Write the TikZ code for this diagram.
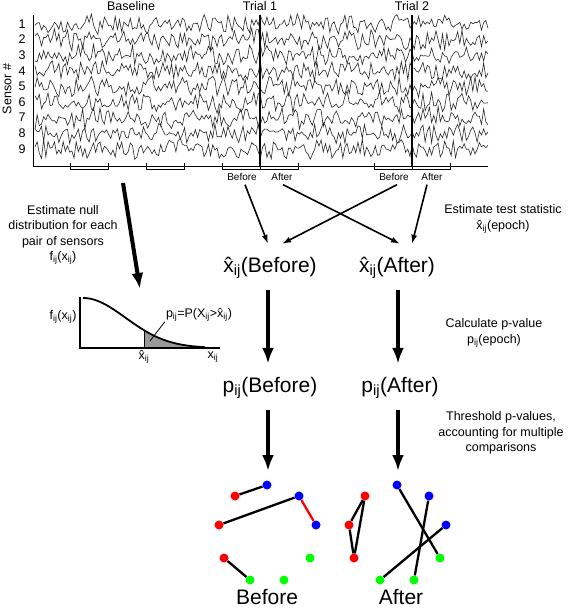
\documentclass[tikz,border=0pt]{standalone}
\usepackage{fontspec}
\setmainfont{Liberation Sans}
\usetikzlibrary{positioning, arrows.meta}

\newcommand{\sij}{\textsubscript{ij}}
\newcommand{\xhat}{\^{x}}

\begin{document}
\begin{tikzpicture}[
    x=1pt, y=-1pt,
    every node/.style={font=\fontsize{12.5}{15.5}\selectfont, align=center, inner sep=0pt},
    trace/.style={draw=black!85, line width=0.6pt},
    bracket/.style={draw, line width=0.6pt},
    smalllabel/.style={font=\fontsize{10}{12}\selectfont, outer ysep=4pt},
    bigbox/.style={font=\fontsize{21}{25}\selectfont, text height=15pt, text depth=5pt, inner ysep=13pt},
    biglabel/.style={font=\fontsize{21}{25}\selectfont},
    thin arrow/.style={-{Latex[length=9pt, width=6pt]}, line width=1.6pt},
    thick arrow/.style={-{Latex[length=16pt, width=12pt]}, line width=4pt},
    sdot/.style={circle, minimum size=9pt, inner sep=0pt},
    link/.style={line width=2.3pt}
]
\useasboundingbox (0,0) rectangle (567,609);
\pgfmathsetseed{11}

% Sensor traces
\node[rotate=90] (sensor_lbl) at (7,89) {Sensor \#};
\foreach \k in {1,...,9} {
    \node (num\k) at (22,{24+15.6*(\k-1)}) {\k};
    \draw[trace] plot[domain=35:488, samples=210] (\x,{24+15.6*(\k-1)+7*rand+5*rand});
}
\draw[line width=0.6pt] (33,15) -- (33,166) -- (488,166);
\draw[line width=2.5pt] (260,15) -- (260,167);
\draw[line width=2.5pt] (412,15) -- (412,167);

% Epoch brackets
\foreach \a/\b in {70/108, 146/184, 222/260, 260/298, 374/412, 412/450}
    \draw[bracket] (\a,163) -- (\a,169) -- (\b,169) -- (\b,163);

% Nodes
\node (baseline) at (131,6) {Baseline};
\node (trial1) at (260,6) {Trial 1};
\node (trial2) at (412,6) {Trial 2};
\node[smalllabel] (bef1) at (242,177) {Before};
\node[smalllabel] (aft1) at (282,177) {After};
\node[smalllabel] (bef2) at (394,177) {Before};
\node[smalllabel] (aft2) at (432,177) {After};

\node[bigbox] (x_before) at (270,267) {\xhat\sij(Before)};
\node[bigbox] (x_after) at (397,267) {\xhat\sij(After)};
\node[bigbox] (p_before) at (270,387) {p\sij(Before)};
\node[bigbox] (p_after) at (400,387) {p\sij(After)};

\node (null_text) at (63,235) {Estimate null\\distribution for each\\pair of sensors\\f\sij(x\sij)};
\node (test_text) at (503,219) {Estimate test statistic\\\xhat\sij(epoch)};
\node (pval_text) at (494,333) {Calculate p-value\\p\sij(epoch)};
\node (thresh_text) at (501,433) {Threshold p-values,\\accounting for multiple\\comparisons};

% Null distribution
\fill[black!40] (144,348) -- plot[domain=144:205, samples=30] (\x,{348-50*exp(-1*((\x-83)/60)^2)}) -- (205,348) -- cycle;
\draw[line width=0.8pt] (144,348) -- (144,330.2);
\draw[line width=1.8pt] plot[domain=83:205, samples=60] (\x,{348-50*exp(-1*((\x-83)/60)^2)});
\draw[line width=1.3pt] (80,297) -- (80,348) -- (220,348);
\node (f_lbl) at (63,317) {f\sij(x\sij)};
\node (p_eq) at (199,315) {p\sij=P(X\sij>\xhat\sij)};
\node (xhat_lbl) at (144,357) {\xhat\sij};
\node (x_lbl) at (213,357) {x\sij};
\coordinate (tail) at (150,341);
\draw[line width=0.8pt] ([xshift=-1pt]p_eq.south west) -- (tail);

% Networks
\foreach \net/\cx in {b/267, a/397} {
    \foreach \s/\dx/\dy/\col in {1/0/-47/blue, 2/-32/-36/red, 3/32/-36/blue,
        4/-48/-7/red, 5/49/-7/blue, 6/-43/26/red, 7/43/26/green,
        8/-17/48/green, 9/17/48/green}
        \node[sdot, fill=\col] (\net\s) at ({\cx+\dx},{532+\dy}) {};
}
\draw[link] (b2) -- (b1);
\draw[link] (b4) -- (b3);
\draw[link, red] (b3) -- (b5);
\draw[link] (b6) -- (b8);
\draw[link] (a2) -- (a4);
\draw[link] (a4) -- (a6);
\draw[link] (a2) -- (a6);
\draw[link] (a1) -- (a7);
\draw[link] (a3) -- (a9);
\draw[link] (a5) -- (a8);
\node[biglabel] (net_before) at (267,597) {Before};
\node[biglabel] (net_after) at (401,597) {After};

% Arrows
\coordinate (base_start) at (123,183);
\coordinate (null_top) at (140,289);
\coordinate (net_b) at (268,471);
\coordinate (net_a) at (398,471);
\draw[thick arrow] (base_start) -- (null_top);
\draw[thin arrow] ([xshift=3pt]bef1.south) -- ([xshift=-2pt]x_before.north);
\draw[thin arrow] ([xshift=1pt]aft1.south) -- ([xshift=3pt]x_after.north);
\draw[thin arrow] ([xshift=3pt]bef2.south) -- ([xshift=12pt]x_before.north);
\draw[thin arrow] ([xshift=-5pt]aft2.south) -- ([xshift=15pt]x_after.north);
\draw[thick arrow] ([xshift=-2pt]x_before.south) -- ([xshift=-2pt]p_before.north);
\draw[thick arrow] ([xshift=1pt]x_after.south) -- ([xshift=-2pt]p_after.north);
\draw[thick arrow] ([xshift=-2pt]p_before.south) -- (net_b);
\draw[thick arrow] ([xshift=-2pt]p_after.south) -- (net_a);

\end{tikzpicture}
\end{document}
